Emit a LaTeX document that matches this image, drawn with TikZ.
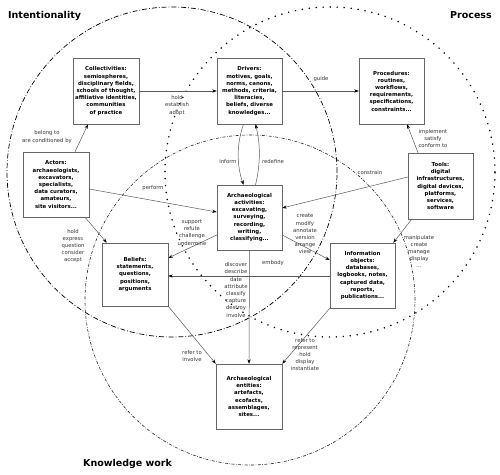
\documentclass[tikz,border=0pt]{standalone}
\usepackage{fontspec}
\setmainfont{DejaVu Sans}
\usetikzlibrary{arrows.meta,calc}
\begin{document}
\begin{tikzpicture}[x=1pt,y=-1pt,
  box/.style={draw=black!60, line width=0.5pt, minimum width=66pt, minimum height=66pt, inner sep=0pt, align=center, font=\bfseries\fontsize{5.4}{7.2}\selectfont},
  lbl/.style={align=center, inner sep=0pt, text=black!80, font=\fontsize{5.3}{7.2}\selectfont},
  conn/.style={draw=black!65, line width=0.5pt, -{Stealth[length=4.5pt,width=3.2pt,color=black]}},
  titlestyle/.style={font=\bfseries\fontsize{9.5}{11}\selectfont, inner sep=0pt},
  intentline/.style={line width=0.7pt, dash pattern=on 5pt off 2pt on 0.8pt off 2pt},
  knowline/.style={line width=0.6pt, draw=black!85, dash pattern=on 3pt off 1.5pt on 0.6pt off 1.5pt},
  processline/.style={line width=1.7pt, line cap=round, dash pattern=on 0pt off 7pt}
]
\useasboundingbox (0,0) rectangle (500,474);

% circles
\draw[intentline] (172,172) circle[radius=165pt];
\draw[processline] (330,172) circle[radius=165pt];
\draw[knowline] (250,300) circle[radius=165pt];

% titles
\node[titlestyle, anchor=base west] (tint) at (8,18) {Intentionality};
\node[titlestyle, anchor=base east] (tproc) at (492,18) {Process};
\node[titlestyle, anchor=base west] (tknow) at (83,466) {Knowledge work};

% boxes
\node[box] (coll) at (106,91) {Collectivities:\\semiospheres,\\disciplinary fields,\\schools of thought,\\affiliative identities,\\communities\\of practice};
\node[box, minimum width=65pt] (drv) at (249.5,91) {Drivers:\\motives, goals,\\norms, canons,\\methods, criteria,\\literacies,\\beliefs, diverse\\knowledges...};
\node[box, minimum width=65pt] (proc) at (391.5,91) {Procedures:\\routines,\\workflows,\\requirements,\\specifications,\\constraints...};
\node[box, minimum height=65pt] (act) at (56,184.5) {Actors:\\archaeologists,\\excavators,\\specialists,\\data curators,\\amateurs,\\site visitors...};
\node[box, minimum width=65pt] (tools) at (440.5,186) {Tools:\\digital\\infrastructures,\\digital devices,\\platforms,\\services,\\software};
\node[box, minimum width=65pt, minimum height=65pt] (acts) at (249.5,217.5) {Archaeological\\activities:\\excavating,\\surveying,\\recording,\\writing,\\classifying...};
\node[box, minimum height=63pt] (bel) at (135,274.5) {Beliefs:\\statements,\\questions,\\positions,\\arguments};
\node[box, minimum width=65pt, minimum height=65pt] (info) at (362.5,275.5) {Information\\objects:\\databases,\\logbooks, notes,\\captured data,\\reports,\\publications...};
\node[box, minimum height=65pt] (ent) at (249,396.5) {Archaeological\\entities:\\artefacts,\\ecofacts,\\assemblages,\\sites...};

% connectors
\draw[conn] (coll.east) -- (drv.west);
\draw[conn] (drv.east) -- (proc.west);
\draw[conn] ($(act.north)+(19,0)$) -- ($(coll.south)+(-18,0)$);
\draw[conn] ($(act.east)+(0,4.5)$) -- ($(acts.west)+(0,-5.5)$);
\draw[conn] ($(act.south)+(29,0)$) -- ($(bel.north west)+(5,0)$);
\draw[conn] ($(drv.south)+(-6,0)$) .. controls ($(drv.south)+(-13,20)$) and ($(acts.north)+(-13,-20)$) .. ($(acts.north)+(-6,0)$);
\draw[conn] ($(acts.north)+(6,0)$) .. controls ($(acts.north)+(11,-20)$) and ($(drv.south)+(11,20)$) .. ($(drv.south)+(6,0)$);
\draw[conn] ($(acts.west)+(0,17.5)$) -- ($(bel.east)+(0,-16.5)$);
\draw[conn] ($(acts.east)+(0,17.5)$) -- ($(info.west)+(0,-15.5)$);
\draw[conn] ($(info.west)+(0,0.5)$) -- ($(bel.east)+(0,1.5)$);
\draw[conn] (acts.south) -- (ent.north);
\draw[conn] (bel.south east) -- (ent.north west);
\draw[conn] (info.south west) -- (ent.north east);
\draw[conn] ($(tools.north)+(-22.5,0)$) -- ($(proc.south)+(15.5,0)$);
\draw[conn] ($(tools.west)+(0,-9)$) -- ($(acts.east)+(0,-9.5)$);
\draw[conn] ($(tools.south west)+(4,0)$) -- ($(info.north east)+(-2,0)$);

% connector labels
\node[lbl] (l1) at (177,105.5) {hold\\establish\\adopt};
\node[lbl] (l2) at (321,79) {guide};
\node[lbl] (l3) at (47,137) {belong to\\are conditioned by};
\node[lbl] (l4) at (153,188) {perform};
\node[lbl] (l5) at (73,246) {hold\\express\\question\\consider\\accept};
\node[lbl] (l6) at (228,162) {inform};
\node[lbl] (l7) at (273,162) {redefine};
\node[lbl] (l8) at (192,232.5) {support\\refute\\challenge\\undermine};
\node[lbl] (l9) at (305,234) {create\\modify\\annotate\\version\\arrange\\view};
\node[lbl] (l10) at (273,263) {embody};
\node[lbl] (l11) at (236,290) {discover\\describe\\date\\attribute\\classify\\capture\\destroy\\involve};
\node[lbl] (l12) at (192,356) {refer to\\involve};
\node[lbl] (l13) at (305,354.5) {refer to\\represent\\hold\\display\\instantiate};
\node[lbl] (l14) at (433,138.5) {implement\\satisfy\\conform to};
\node[lbl] (l15) at (370,173) {constrain};
\node[lbl] (l16) at (419,251.5) {manipulate\\create\\manage\\display\\...};
\end{tikzpicture}
\end{document}
